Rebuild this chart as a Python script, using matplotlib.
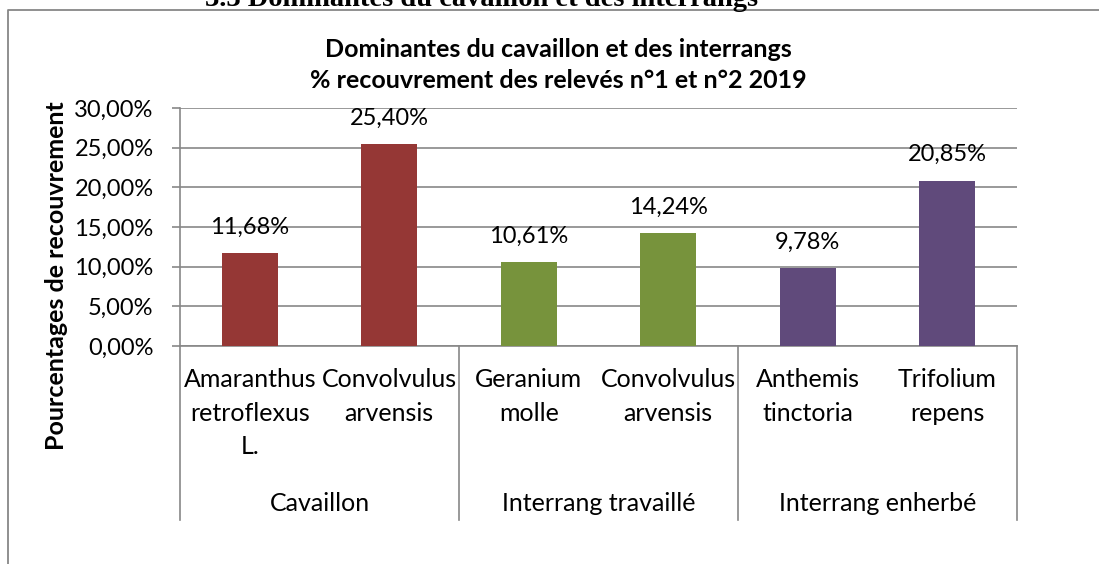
import matplotlib
matplotlib.use("Agg")
import matplotlib.pyplot as plt
from matplotlib.lines import Line2D
from matplotlib.ticker import FuncFormatter

# data
species = ["Amaranthus\nretroflexus\nL.", "Convolvulus\narvensis",
           "Geranium\nmolle", "Convolvulus\narvensis",
           "Anthemis\ntinctoria", "Trifolium\nrepens"]
values = [11.68, 25.40, 10.61, 14.24, 9.78, 20.85]
groups = ["Cavaillon", "Interrang travaillé", "Interrang enherbé"]
group_size = [2, 2, 2]
group_colors = ["#953735", "#77933C", "#604A7B"]

W, H = 1099, 564
fig = plt.figure(figsize=(W / 100, H / 100), dpi=100)
plt.rcParams["font.family"] = ["Lato", "DejaVu Sans"]

def fx(px):
    return px / W

def fy(py):
    return 1 - py / H

gray = "#878787"
fs = 18      # words
fs_num = 17  # numbers

def pct(v):
    return f"{v:.2f}%".replace(".", ",")

# plot area
ax = fig.add_axes([fx(180), fy(346), fx(1017) - fx(180), fy(108) - fy(346)])

colors = []
for c, n in zip(group_colors, group_size):
    colors += [c] * n
x = list(range(len(values)))
bars = ax.bar(x, values, width=0.4, color=colors, zorder=3)

ax.set_xlim(-0.5, len(values) - 0.5)
ax.set_ylim(0, 30)
ax.set_yticks([0, 5, 10, 15, 20, 25, 30])
ax.yaxis.set_major_formatter(FuncFormatter(lambda v, p: pct(v)))
ax.tick_params(axis="y", length=6, width=1.2, color=gray, labelsize=fs_num, pad=13)
ax.grid(axis="y", color=gray, lw=1.2, zorder=0)
for s in ["top", "right"]:
    ax.spines[s].set_visible(False)
for s in ["left", "bottom"]:
    ax.spines[s].set_color(gray)
    ax.spines[s].set_linewidth(1.2)

# data labels
for b, v in zip(bars, values):
    ax.annotate(pct(v), (b.get_x() + b.get_width() / 2, v),
                xytext=(0, 11), textcoords="offset points",
                ha="center", va="bottom", fontsize=fs_num)

# two-level category axis
ax.set_xticks(x)
ax.set_xticklabels(species, fontsize=fs, linespacing=1.55)
ax.tick_params(axis="x", length=0, pad=16)

axh = 346 - 108
tr = ax.get_xaxis_transform()
start = 0
bounds = [-0.5]
for g, n in zip(groups, group_size):
    center = start + (n - 1) / 2
    ax.text(center, (346 - 503) / axh, g, transform=tr, ha="center", va="center", fontsize=fs)
    start += n
    bounds.append(start - 0.5)
for bx in bounds:
    ax.add_line(Line2D([bx, bx], [0, (346 - 520) / axh], transform=tr,
                       color=gray, lw=1.2, clip_on=False))

# axis title
fig.text(fx(57), fy(276), "Pourcentages de recouvrement", rotation=90,
         ha="center", va="center", fontsize=fs, fontweight="bold")

# chart title
fig.text(fx(558), fy(57), "Dominantes du cavaillon et des interrangs",
         ha="center", va="baseline", fontsize=fs, fontweight="bold")
fig.text(fx(558), fy(88), "% recouvrement des relevés n°1 et n°2 2019",
         ha="center", va="baseline", fontsize=fs, fontweight="bold")

# chart border (only top and left visible in the crop)
fig.add_artist(Line2D([fx(8), fx(8), 1], [0, fy(9.5), fy(9.5)],
                      transform=fig.transFigure, color=gray, lw=1.3))

# document heading cut off at the top
fig.text(fx(205), fy(6.5), "3.3 Dominantes du cavaillon et des interrangs",
         ha="left", va="baseline", fontsize=20.5, fontweight="bold",
         family="Liberation Serif")

fig.savefig("out.png", dpi=100)
